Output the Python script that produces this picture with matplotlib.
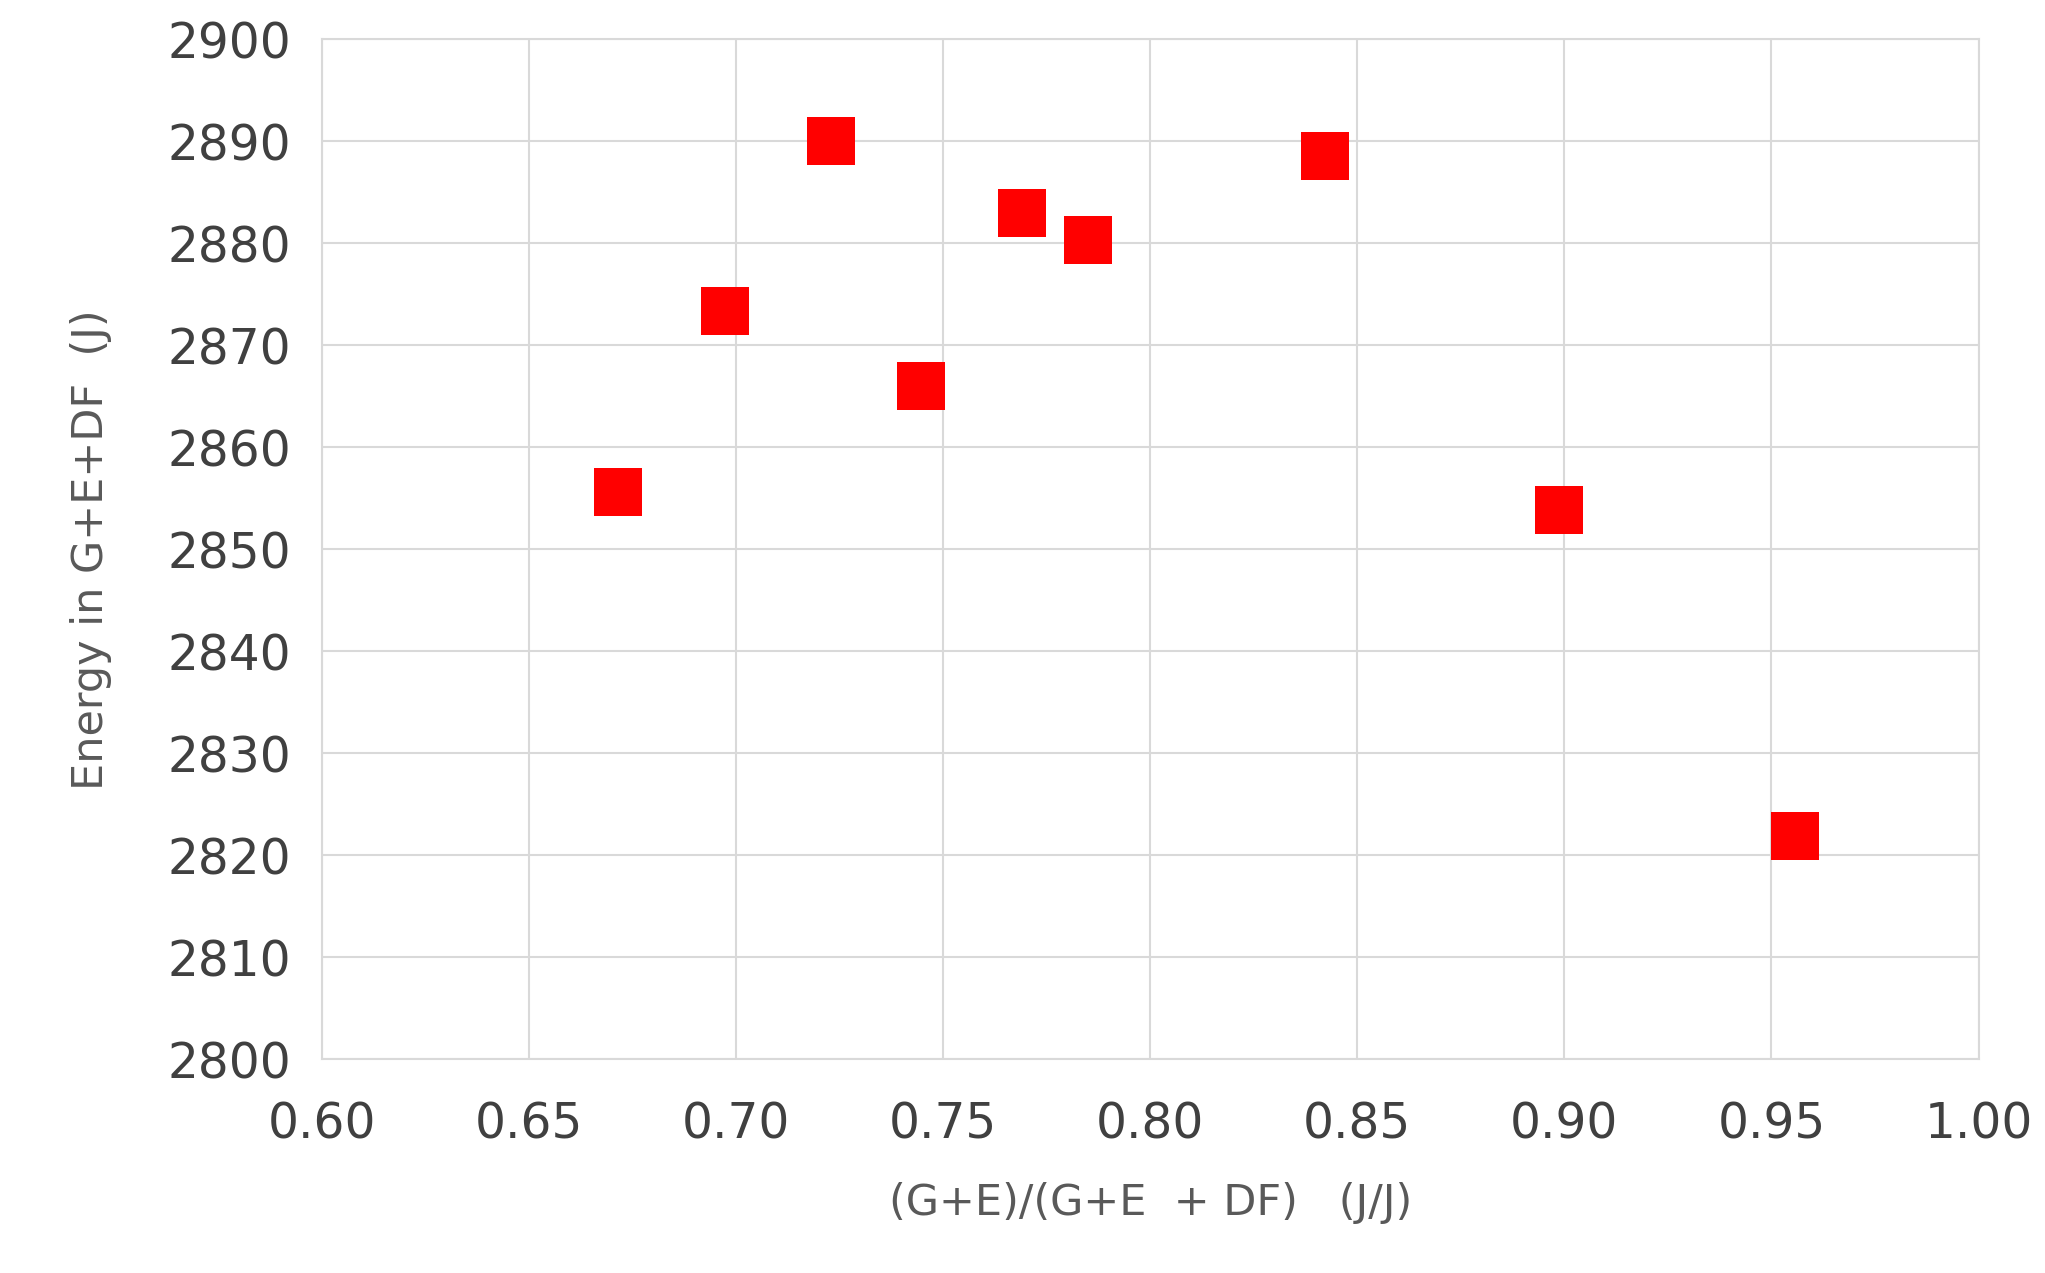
import matplotlib
matplotlib.use("Agg")
import matplotlib.pyplot as plt

x_vals = [0.6715, 0.6973, 0.7228, 0.7446, 0.7691, 0.7849, 0.8422, 0.8986, 0.9556]
y_vals = [2855.6, 2873.4, 2890.0, 2866.0, 2883.0, 2880.3, 2888.6, 2853.9, 2821.9]
x_ticks = [0.60, 0.65, 0.70, 0.75, 0.80, 0.85, 0.90, 0.95, 1.00]
y_ticks = list(range(2800, 2901, 10))

fig = plt.figure(figsize=(20.45, 12.73), dpi=100)
ax = fig.add_axes([0.1575, 0.168, 0.81, 0.801])
ax.scatter(x_vals, y_vals, marker='s', s=35**2, color='#ff0000', zorder=3, linewidths=0)
ax.set_xlim(0.60, 1.00)
ax.set_ylim(2800, 2900)
ax.set_xticks(x_ticks)
ax.set_xticklabels([f"{v:.2f}" for v in x_ticks])
ax.set_yticks(y_ticks)
ax.grid(True, color='#d9d9d9', linewidth=1.5)
for s in ax.spines.values():
    s.set_color('#d9d9d9'); s.set_linewidth(1.5)
ax.tick_params(length=0, labelsize=35, labelcolor='#404040')
ax.tick_params(axis='x', pad=30)
ax.tick_params(axis='y', pad=22)
ax.set_xlabel("(G+E)/(G+E  + DF)   (J/J)", fontsize=31, color='#595959', labelpad=24)
ax.set_ylabel("Energy in G+E+DF  (J)", fontsize=31, color='#595959', labelpad=40)
fig.savefig("out.png", dpi=100)
